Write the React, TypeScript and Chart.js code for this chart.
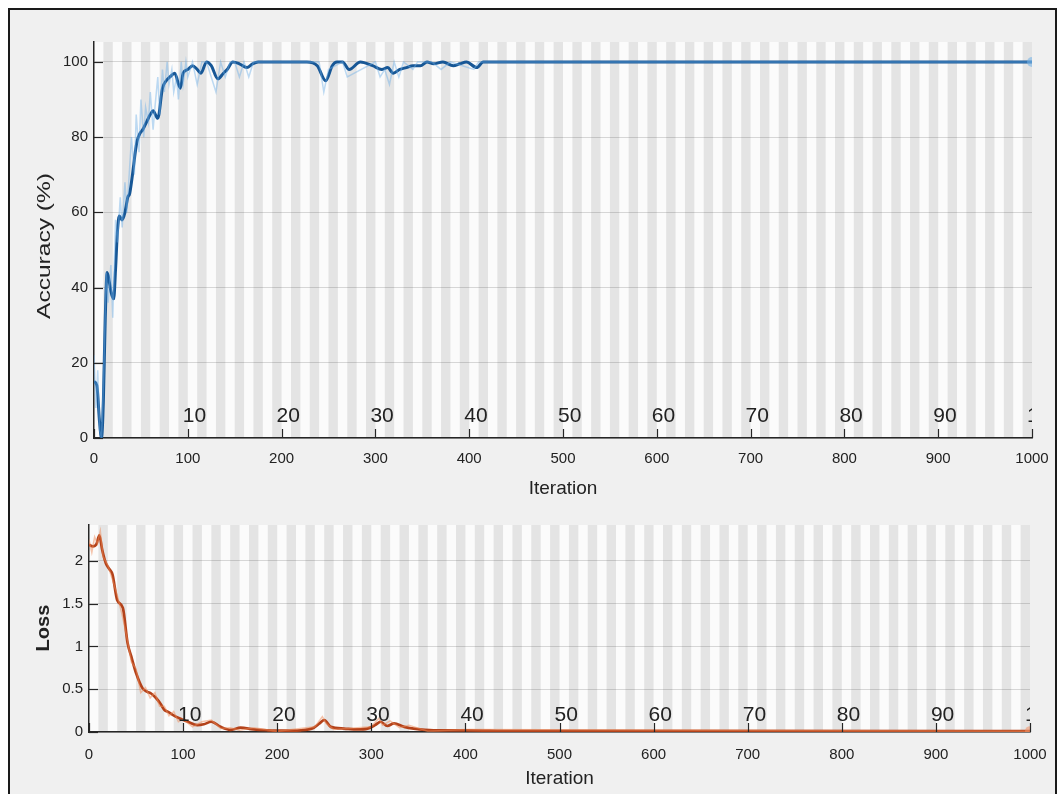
import React, { useEffect, useRef } from "react";
import { Chart, registerables } from "chart.js";
Chart.register(...registerables);

// ---------- data ----------
const xTicks = [0, 100, 200, 300, 400, 500, 600, 700, 800, 900, 1000];
const accTicks = [0, 20, 40, 60, 80, 100];
const lossTicks = [0, 0.5, 1, 1.5, 2];
const lossTickLabels = ["0", "0.5", "1", "1.5", "2"];
const epochCount = 100;
const itersPerEpoch = 10;
const epochLabels = ["10", "20", "30", "40", "50", "60", "70", "80", "90", "100"];

const accIter = [0, 3, 6, 8, 10, 12, 14, 16, 18, 21, 23, 25, 27, 30, 33, 36, 38, 41, 44, 46, 49, 52, 56, 60, 63, 68, 73, 77, 81, 86, 92, 95, 100, 105, 110, 114, 120, 125, 132, 138, 142, 148, 155, 163, 169, 175, 227, 238, 247, 254, 259, 265, 272, 284, 297, 307, 313, 319, 326, 333, 340, 348, 355, 362, 372, 383, 390, 397, 408, 415, 1000];
const accSmooth = [15, 14, 4, 0, 10, 32, 44, 42, 39, 37, 45, 55, 59, 58, 60, 64, 65, 70, 76, 79, 81, 82, 84, 86, 87, 85, 93, 95, 96, 97, 93, 97, 98, 99, 98, 97, 100, 99, 95.5, 97, 98, 100, 99.5, 98.5, 99.5, 100, 100, 99, 95, 99, 100, 100, 98, 100, 99, 98, 98.5, 97, 98, 98.5, 99, 99, 100, 99.5, 100, 99, 99.5, 100, 98.5, 100, 100];

const accRawIter = [0, 2, 4, 6, 8, 10, 13, 15, 18, 20, 23, 25, 28, 30, 33, 35, 38, 40, 43, 45, 48, 50, 53, 55, 58, 60, 63, 65, 68, 70, 73, 75, 78, 80, 83, 85, 88, 90, 93, 95, 98, 100, 105, 110, 115, 120, 125, 130, 135, 140, 145, 150, 155, 160, 165, 170, 180, 240, 245, 250, 265, 270, 300, 305, 310, 315, 320, 325, 330, 340, 345, 360, 370, 380, 405, 410, 420, 1000];
const accRaw = [22, 8, 18, 2, 0, 14, 44, 36, 46, 32, 58, 52, 64, 56, 68, 60, 72, 80, 70, 86, 76, 90, 80, 88, 84, 92, 82, 88, 96, 86, 98, 92, 100, 94, 98, 92, 96, 90, 100, 94, 100, 96, 100, 94, 100, 100, 96, 92, 100, 96, 100, 100, 96, 100, 96, 100, 100, 100, 92, 98, 100, 96, 100, 96, 98, 94, 100, 96, 100, 98, 100, 100, 98, 100, 98, 100, 100, 100];

const lossIter = [0, 4, 8, 11, 14, 18, 22, 25, 30, 36, 41, 45, 50, 57, 62, 66, 71, 76, 80, 85, 89, 96, 105, 115, 122, 130, 140, 151, 161, 175, 190, 205, 225, 239, 245, 250, 257, 271, 285, 296, 304, 310, 317, 324, 335, 345, 366, 402, 450, 1000];
const lossSmooth = [2.19, 2.17, 2.2, 2.3, 2.13, 1.97, 1.9, 1.84, 1.54, 1.45, 1.04, 0.88, 0.69, 0.51, 0.47, 0.45, 0.4, 0.33, 0.26, 0.23, 0.2, 0.16, 0.12, 0.08, 0.09, 0.12, 0.06, 0.025, 0.05, 0.03, 0.02, 0.015, 0.02, 0.05, 0.1, 0.14, 0.06, 0.04, 0.03, 0.04, 0.08, 0.12, 0.07, 0.1, 0.06, 0.04, 0.02, 0.02, 0.012, 0.01];
const lossRawIter = [0, 3, 6, 9, 12, 15, 20, 25, 30, 35, 40, 45, 50, 55, 60, 65, 70, 75, 80, 85, 90, 95, 100, 110, 120, 130, 140, 150, 160, 175, 200, 240, 248, 252, 260, 300, 308, 312, 320, 330, 340, 360, 400, 1000];
const lossRaw = [2.25, 2.1, 2.28, 2.2, 2.35, 2.05, 1.95, 1.78, 1.6, 1.38, 1.12, 0.82, 0.74, 0.46, 0.52, 0.4, 0.46, 0.3, 0.3, 0.19, 0.24, 0.12, 0.15, 0.06, 0.12, 0.14, 0.04, 0.05, 0.02, 0.05, 0.01, 0.06, 0.18, 0.1, 0.03, 0.06, 0.16, 0.08, 0.13, 0.05, 0.08, 0.01, 0.03, 0.01];

// ---------- styling helpers ----------
const FONT = "'Liberation Sans', Arial, sans-serif";
const tickFont = { family: FONT, size: 15 };
const titleFont = { family: FONT, size: 19 };
const axisColor = "#262626";
const textColor = "#222222";

const bandsPlugin = {
  id: "bands",
  beforeDraw(chart: any) {
    const { ctx, chartArea: a, scales } = chart;
    const x = scales.x;
    ctx.save();
    ctx.fillStyle = "#fbfbfb";
    ctx.fillRect(a.left, a.top, a.right - a.left, a.bottom - a.top);
    ctx.fillStyle = "#e4e4e4";
    for (let e = 1; e < epochCount; e += 2) {
      const x0 = x.getPixelForValue(e * itersPerEpoch);
      const x1 = x.getPixelForValue((e + 1) * itersPerEpoch);
      ctx.fillRect(x0, a.top, x1 - x0, a.bottom - a.top);
    }
    ctx.restore();
  },
};

const makeOverlayPlugin = (epochOffset: number, yTitle: any) => ({
  id: "overlay",
  afterDatasetsDraw(chart: any) {
    const { ctx, chartArea: a, scales } = chart;
    const x = scales.x;
    const y = scales.y;
    ctx.save();
    // inner tick marks
    ctx.strokeStyle = axisColor;
    ctx.lineWidth = 1.2;
    x.ticks.forEach((t: any) => {
      const px = Math.round(x.getPixelForValue(t.value)) + 0.5;
      ctx.beginPath();
      ctx.moveTo(px, a.bottom);
      ctx.lineTo(px, a.bottom - 9);
      ctx.stroke();
    });
    y.ticks.forEach((t: any) => {
      const py = Math.round(y.getPixelForValue(t.value)) + 0.5;
      ctx.beginPath();
      ctx.moveTo(a.left, py);
      ctx.lineTo(a.left + 9, py);
      ctx.stroke();
    });
    ctx.restore();

    // y-axis title (drawn manually, stretched along reading direction)
    if (yTitle) {
      ctx.save();
      ctx.fillStyle = textColor;
      ctx.font = `${yTitle.bold ? "bold " : ""}${yTitle.size}px ${FONT}`;
      ctx.textAlign = "center";
      ctx.textBaseline = "middle";
      const w = ctx.measureText(yTitle.text).width;
      const sx = yTitle.length / w;
      ctx.translate(yTitle.cx, yTitle.cy);
      ctx.rotate(-Math.PI / 2);
      ctx.scale(sx, 1);
      ctx.fillText(yTitle.text, 0, 0);
      ctx.restore();
    }

    // epoch labels
    ctx.save();
    ctx.beginPath();
    ctx.rect(a.left, a.top, a.right - a.left, a.bottom - a.top);
    ctx.clip();
    ctx.fillStyle = textColor;
    ctx.font = `21px ${FONT}`;
    ctx.textAlign = "left";
    ctx.textBaseline = "alphabetic";
    epochLabels.forEach((lab, i) => {
      const px = x.getPixelForValue((i + 1) * itersPerEpoch * 10);
      ctx.fillText(lab, px - 5, a.bottom - epochOffset);
    });
    ctx.restore();
  },
});

function makeScales(opts: {
  yMin: number;
  yMax: number;
  yTicks: number[];
  yLabels: string[];
  yWidth: number;
  xTitlePad: number;
  xTickPad: number;
}) {
  return {
    x: {
      type: "linear",
      min: 0,
      max: 1000,
      afterBuildTicks: (s: any) => {
        s.ticks = xTicks.map((v) => ({ value: v }));
      },
      afterFit: (s: any) => {
        s.height = 62;
      },
      grid: { display: false, drawTicks: false },
      border: { display: true, color: axisColor, width: 1.5 },
      ticks: {
        padding: opts.xTickPad,
        color: textColor,
        font: tickFont,
        maxRotation: 0,
        autoSkip: false,
        callback: (v: any) => String(v),
      },
      title: {
        display: true,
        text: "Iteration",
        color: textColor,
        font: titleFont,
        padding: { top: 0, bottom: opts.xTitlePad },
      },
    },
    y: {
      type: "linear",
      min: opts.yMin,
      max: opts.yMax,
      afterBuildTicks: (s: any) => {
        s.ticks = opts.yTicks.map((v) => ({ value: v }));
      },
      afterFit: (s: any) => {
        s.width = opts.yWidth;
      },
      grid: { color: "rgba(38,38,38,0.17)", drawTicks: false, lineWidth: 1 },
      border: { display: true, color: axisColor, width: 1.5 },
      ticks: {
        padding: 6,
        color: textColor,
        font: tickFont,
        callback: (v: any) => {
          const i = opts.yTicks.indexOf(v);
          return i >= 0 ? opts.yLabels[i] : "";
        },
      },
      title: { display: false },
    },
  };
}

function lastPointRadius(n: number, r: number) {
  return Array.from({ length: n }, (_, i) => (i === n - 1 ? r : 0));
}

export default function App() {
  const topRef = useRef<HTMLCanvasElement>(null);
  const botRef = useRef<HTMLCanvasElement>(null);

  useEffect(() => {
    const top = new Chart(topRef.current as HTMLCanvasElement, {
      type: "line",
      data: {
        datasets: [
          {
            data: accRawIter.map((x, i) => ({ x, y: accRaw[i] })),
            borderColor: "rgba(110,175,230,0.45)",
            borderWidth: 1.5,
            pointRadius: 0,
            tension: 0,
          },
          {
            data: accIter.map((x, i) => ({ x, y: accSmooth[i] })),
            borderColor: "#175796",
            borderWidth: 3,
            pointRadius: lastPointRadius(accIter.length, 5),
            pointBackgroundColor: "rgba(120,180,230,0.6)",
            pointBorderWidth: 0,
            cubicInterpolationMode: "monotone",
          },
        ],
      },
      options: {
        animation: false,
        responsive: false,
        maintainAspectRatio: false,
        layout: { padding: { left: 34, right: 30, top: 42, bottom: 0 } },
        plugins: { legend: { display: false }, tooltip: { enabled: false } },
        scales: makeScales({
          yMin: 0,
          yMax: 105.3,
          yTicks: accTicks,
          yLabels: accTicks.map(String),
          yWidth: 60,
          xTitlePad: 0,
          xTickPad: 12,
        }) as any,
      },
      plugins: [
        bandsPlugin,
        makeOverlayPlugin(16, { text: "Accuracy (%)", size: 18, bold: false, length: 146, cx: 45, cy: 246 }),
      ],
    } as any);

    const bot = new Chart(botRef.current as HTMLCanvasElement, {
      type: "line",
      data: {
        datasets: [
          {
            data: lossRawIter.map((x, i) => ({ x, y: lossRaw[i] })),
            borderColor: "rgba(240,140,90,0.5)",
            borderWidth: 1.5,
            pointRadius: 0,
            tension: 0,
          },
          {
            data: lossIter.map((x, i) => ({ x, y: lossSmooth[i] })),
            borderColor: "#b3421a",
            borderWidth: 2.7,
            pointRadius: lastPointRadius(lossIter.length, 5),
            pointBackgroundColor: "rgba(240,150,110,0.6)",
            pointBorderWidth: 0,
            cubicInterpolationMode: "monotone",
          },
        ],
      },
      options: {
        animation: false,
        responsive: false,
        maintainAspectRatio: false,
        layout: { padding: { left: 29, right: 32, top: 25, bottom: 0 } },
        plugins: { legend: { display: false }, tooltip: { enabled: false } },
        scales: makeScales({
          yMin: 0,
          yMax: 2.42,
          yTicks: lossTicks,
          yLabels: lossTickLabels,
          yWidth: 60,
          xTitlePad: 4,
          xTickPad: 14,
        }) as any,
      },
      plugins: [
        bandsPlugin,
        makeOverlayPlugin(11, { text: "Loss", size: 18, bold: true, length: 47, cx: 44, cy: 128 }),
      ],
    } as any);

    return () => {
      top.destroy();
      bot.destroy();
    };
  }, []);

  return (
    <div style={{ position: "absolute", left: 0, top: 0, width: 1062, height: 794, overflow: "hidden", background: "#ffffff" }}>
      <div
        style={{
          position: "absolute",
          left: 8,
          top: 8,
          width: 1049,
          height: 820,
          border: "2px solid #1a1a1a",
          boxSizing: "border-box",
          background: "#f0f0f0",
        }}
      />
      <canvas
        ref={topRef}
        width={1062}
        height={500}
        style={{ position: "absolute", left: 0, top: 0, width: 1062, height: 500 }}
      />
      <canvas
        ref={botRef}
        width={1062}
        height={294}
        style={{ position: "absolute", left: 0, top: 500, width: 1062, height: 294 }}
      />
    </div>
  );
}
